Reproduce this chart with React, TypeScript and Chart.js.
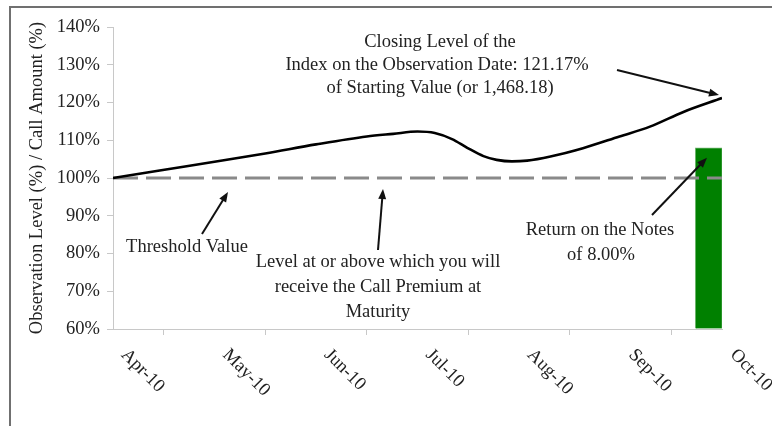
import React, { useEffect, useRef } from "react";
import { Chart, registerables } from "chart.js";

Chart.register(...registerables);

// ---- data ----
const monthLabels = ["Apr-10", "May-10", "Jun-10", "Jul-10", "Aug-10", "Sep-10", "Oct-10"];
const indexMonths = [0, 0.46, 1, 1.5, 2, 2.5, 2.76, 3, 3.17, 3.34, 3.49, 3.65, 3.78, 3.93, 4.08, 4.31, 4.63, 4.99, 5.29, 5.62, 6];
const indexLevels = [100, 102.0, 104.3, 106.5, 108.9, 111.0, 111.7, 112.3, 111.9, 110.3, 108.0, 105.8, 104.8, 104.4, 104.6, 105.7, 107.9, 111.0, 113.6, 117.5, 121.17];
const thresholdMonths = [0, 6];
const thresholdLevels = [100, 100];
const returnMonths = [5.87];
const returnLevels = [108];
const yMin = 60;
const yMax = 140;
const yStep = 10;

const FONT_FAMILY = "'Liberation Serif', 'Times New Roman', serif";
const FONT_SIZE = 18.5;
const TEXT = "#222";

function arrow(ctx: CanvasRenderingContext2D, x1: number, y1: number, x2: number, y2: number) {
  const ang = Math.atan2(y2 - y1, x2 - x1);
  const head = 10;
  const half = 4;
  ctx.beginPath();
  ctx.moveTo(x1, y1);
  ctx.lineTo(x2 - Math.cos(ang) * head * 0.8, y2 - Math.sin(ang) * head * 0.8);
  ctx.stroke();
  ctx.beginPath();
  ctx.moveTo(x2, y2);
  ctx.lineTo(x2 - Math.cos(ang) * head + Math.sin(ang) * half, y2 - Math.sin(ang) * head - Math.cos(ang) * half);
  ctx.lineTo(x2 - Math.cos(ang) * head - Math.sin(ang) * half, y2 - Math.sin(ang) * head + Math.cos(ang) * half);
  ctx.closePath();
  ctx.fill();
}

const overlay = {
  id: "overlay",
  beforeDraw(chart: any) {
    const { ctx, width, height } = chart;
    ctx.save();
    ctx.strokeStyle = "#707070";
    ctx.lineWidth = 2;
    ctx.beginPath();
    ctx.moveTo(width, 7);
    ctx.lineTo(10, 7);
    ctx.lineTo(10, height);
    ctx.stroke();
    ctx.restore();
  },
  afterDraw(chart: any) {
    const { ctx, chartArea } = chart;
    const xs = chart.scales.x;
    const ys = chart.scales.y;
    ctx.save();
    ctx.fillStyle = TEXT;
    ctx.font = `${FONT_SIZE}px ${FONT_FAMILY}`;

    // rotated month labels
    monthLabels.forEach((lab, i) => {
      const px = xs.getPixelForValue(i);
      ctx.save();
      ctx.translate(px + 11, chartArea.bottom + 23);
      ctx.rotate(Math.PI / 4);
      ctx.textAlign = "left";
      ctx.textBaseline = "middle";
      ctx.fillText(lab, 0, 0);
      ctx.restore();
    });

    // y title
    ctx.save();
    ctx.translate(37, (chartArea.top + chartArea.bottom) / 2);
    ctx.rotate(-Math.PI / 2);
    ctx.textAlign = "center";
    ctx.textBaseline = "middle";
    ctx.fillText("Observation Level (%) / Call Amount (%)", 0, 0);
    ctx.restore();

    // annotation texts
    ctx.textAlign = "center";
    ctx.textBaseline = "middle";
    const texts: [string, number, number][] = [
      ["Closing Level of the", 440, 42],
      ["Index on the Observation Date: 121.17%", 437, 65],
      ["of Starting Value (or 1,468.18)", 440, 88],
      ["Threshold Value", 187, 247],
      ["Level at or above which you will", 378, 262],
      ["receive the Call Premium at", 378, 287],
      ["Maturity", 378, 312],
      ["Return on the Notes", 600, 230],
      ["of 8.00%", 601, 255],
    ];
    texts.forEach(([t, x, y]) => ctx.fillText(t, x, y));

    // arrows
    ctx.strokeStyle = "#111";
    ctx.fillStyle = "#111";
    ctx.lineWidth = 2;
    const lastX = xs.getPixelForValue(indexMonths[indexMonths.length - 1]);
    const lastY = ys.getPixelForValue(indexLevels[indexLevels.length - 1]);
    arrow(ctx, 617, 70, lastX - 3, lastY - 3);
    const thrY = ys.getPixelForValue(thresholdLevels[0]);
    arrow(ctx, 202, 234, 228, thrY + 14);
    arrow(ctx, 378, 250, 383, thrY + 11);
    const barTop = ys.getPixelForValue(returnLevels[0]);
    arrow(ctx, 652, 215, 707, barTop + 10);
    ctx.restore();
  },
};

export default function App() {
  const ref = useRef<HTMLCanvasElement | null>(null);
  useEffect(() => {
    if (!ref.current) return;
    const chart = new Chart(ref.current, {
      type: "line",
      data: {
        datasets: [
          {
            label: "Index",
            data: indexMonths.map((m, i) => ({ x: m, y: indexLevels[i] })),
            borderColor: "#000",
            borderWidth: 2.6,
            pointRadius: 0,
            cubicInterpolationMode: "monotone",
            fill: false,
          },
          {
            label: "Threshold",
            data: thresholdMonths.map((m, i) => ({ x: m, y: thresholdLevels[i] })),
            borderColor: "#8a8a8a",
            borderWidth: 3,
            borderDash: [25, 8],
            pointRadius: 0,
            fill: false,
          },
          {
            type: "bar",
            label: "Return",
            data: returnMonths.map((m, i) => ({ x: m, y: returnLevels[i] })),
            backgroundColor: "#008000",
            borderColor: "#6fb56f",
            borderWidth: 1,
            barThickness: 27,
            base: yMin,
          } as any,
        ],
      },
      options: {
        animation: false,
        responsive: false,
        maintainAspectRatio: false,
        layout: { padding: { left: 0, top: 27, right: 50, bottom: 91 } },
        plugins: { legend: { display: false }, tooltip: { enabled: false } },
        scales: {
          x: {
            type: "linear",
            min: 0,
            max: 6,
            offset: false,
            ticks: { display: false, stepSize: 1 },
            grid: { drawOnChartArea: false, drawTicks: true, tickLength: 6, color: "#c8c8c8" },
            border: { display: true, color: "#c8c8c8", width: 1 },
          },
          y: {
            min: yMin,
            max: yMax,
            afterFit: (s: any) => {
              s.width = 113;
            },
            ticks: {
              stepSize: yStep,
              padding: 7,
              color: TEXT,
              font: { family: FONT_FAMILY, size: FONT_SIZE },
              callback: (v: any) => `${v}%`,
            },
            grid: { drawOnChartArea: false, drawTicks: true, tickLength: 6, color: "#c8c8c8" },
            border: { display: true, color: "#c8c8c8", width: 1 },
          },
        },
      },
      plugins: [overlay],
    });
    return () => chart.destroy();
  }, []);
  return (
    <div style={{ position: "absolute", left: 0, top: 0, width: 772, height: 426, background: "#fff" }}>
      <canvas ref={ref} width={772} height={426} style={{ display: "block", width: 772, height: 426 }} />
    </div>
  );
}
